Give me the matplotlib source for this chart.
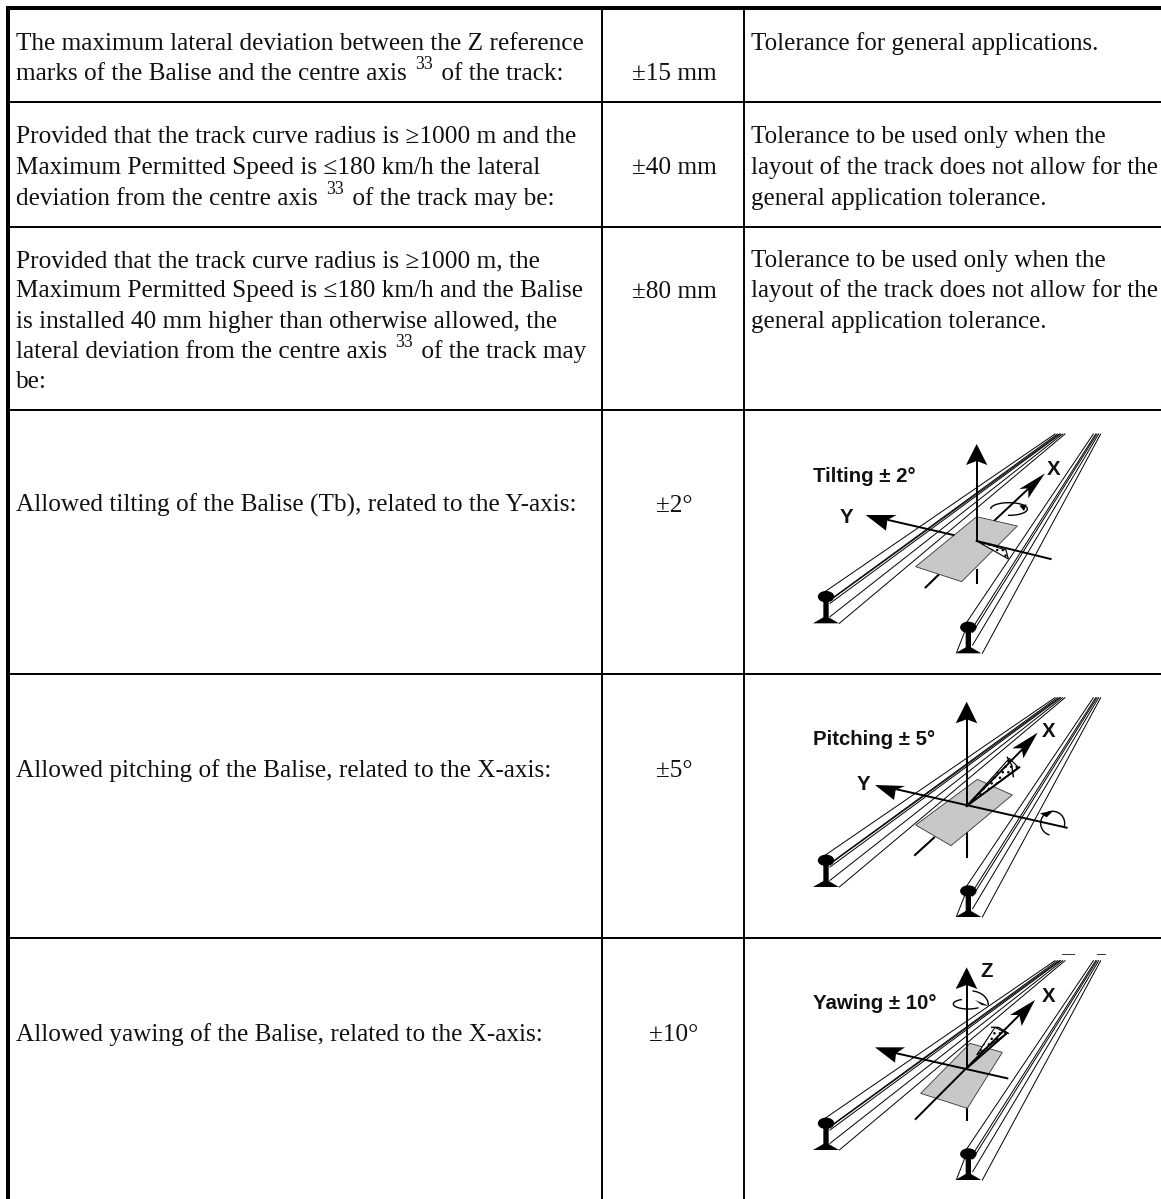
import matplotlib
matplotlib.use('Agg')
import matplotlib.pyplot as plt
from matplotlib.patches import Arc, Ellipse, Polygon

# Table text, ^33^ marks a superscript
left_col = [
    ['The maximum lateral deviation between the Z reference',
     'marks of the Balise and the centre axis ^33^ of the track:'],
    ['Provided that the track curve radius is ≥1000 m and the',
     'Maximum Permitted Speed is ≤180 km/h the lateral',
     'deviation from the centre axis ^33^ of the track may be:'],
    ['Provided that the track curve radius is ≥1000 m, the',
     'Maximum Permitted Speed is ≤180 km/h and the Balise',
     'is installed 40 mm higher than otherwise allowed, the',
     'lateral deviation from the centre axis ^33^ of the track may',
     'be:'],
    ['Allowed tilting of the Balise (Tb), related to the Y-axis:'],
    ['Allowed pitching of the Balise, related to the X-axis:'],
    ['Allowed yawing of the Balise, related to the X-axis:'],
]
left_y = [[50, 80], [143, 174, 205], [267, 297, 328, 358, 388], [512], [777], [1041]]
mid_col = ['±15 mm', '±40 mm', '±80 mm', '±2°', '±5°', '±10°']
mid_y = [80, 174, 298, 512, 777, 1041]
right_col = [
    ['Tolerance for general applications.'],
    ['Tolerance to be used only when the',
     'layout of the track does not allow for the',
     'general application tolerance.'],
    ['Tolerance to be used only when the',
     'layout of the track does not allow for the',
     'general application tolerance.'],
]
right_y = [[50], [143, 174, 205], [267, 297, 328]]
row_lines = [102, 227, 410, 674, 938]

# Diagram shapes, in 3x crop coordinates of each panel
rail_left = [(222, 532, 915), (250, 547, 922), (246, 552, 928), (240, 565, 932), (240, 605, 938), (268, 625, 945)]
rail_right = [(648, 625, 1030), (672, 632, 1037), (668, 652, 1041), (668, 690, 1046), (697, 715, 1052)]
panels = [
    dict(oy=415, dy=0, plate=[(497, 455), (635, 500), (802, 333), (680, 305)],
         under=[((527, 517), (565, 480)), ((680, 465), (680, 503))],
         over=[((680, 378), (680, 130)), ((735, 315), (845, 212)), ((610, 360), (415, 315)), ((680, 378), (902, 432))],
         heads=[[(680, 87), (648, 150), (680, 138), (712, 150)],
                [(885, 175), (808, 222), (835, 220), (835, 250)],
                [(347, 300), (440, 300), (412, 315), (408, 347)]],
         wedge=[(680, 378), (775, 432), (768, 405)],
         curves=[],
         arcs=[(777, 282, 110, 38, 0, 180, 460)],
         curve_tip=[(830, 268), (808, 272), (822, 288)],
         label=('Tilting ± 2°', 190, 200), axes=[('Y', 290, 323), ('X', 912, 180)]),
    dict(oy=680, dy=-4, plate=[(497, 435), (603, 497), (787, 345), (682, 298)],
         under=[((495, 525), (552, 473)), ((650, 460), (650, 530))],
         over=[((650, 378), (650, 110)), ((650, 378), (825, 200)), ((440, 328), (950, 443)), ((650, 378), (808, 262))],
         heads=[[(650, 65), (617, 130), (650, 118), (682, 130)],
                [(863, 158), (787, 205), (815, 205), (820, 235)],
                [(375, 315), (465, 318), (437, 330), (432, 360)]],
         wedge=[(650, 378), (778, 235), (805, 262)],
         curves=[[(772, 232), (785, 255), (790, 290)]],
         arcs=[(908, 430, 72, 72, 0, 105, 380)],
         curve_tip=[(870, 400), (910, 392), (890, 412)],
         label=('Pitching ± 5°', 190, 195), axes=[('Y', 340, 330), ('X', 895, 170)]),
    dict(oy=940, dy=5, plate=[(512, 460), (652, 505), (757, 337), (660, 310)],
         under=[((650, 505), (650, 540))],
         over=[((650, 385), (650, 125)), ((497, 537), (815, 218)), ((440, 340), (772, 415)), ((650, 385), (770, 280))],
         heads=[[(650, 82), (617, 147), (650, 135), (682, 147)],
                [(855, 180), (780, 225), (808, 225), (815, 258)],
                [(375, 322), (465, 322), (438, 340), (435, 368)]],
         wedge=[(680, 345), (735, 262), (770, 280)],
         curves=[[(725, 262), (745, 262), (775, 280)]],
         arcs=[(660, 195, 110, 85, 0, 280, 360), (655, 192, 90, 30, 0, 20, 215)],
         curve_tip=[(718, 198), (675, 180), (695, 195)],
         label=('Yawing ± 10°', 190, 207), axes=[('Z', 710, 112), ('X', 895, 185)]),
]

plt.rcParams['font.family'] = ['Liberation Serif', 'DejaVu Sans']
fig = plt.figure(figsize=(11.61, 11.99), dpi=100)
ax = fig.add_axes([0, 0, 1, 1])
ax.set_xlim(0, 1161)
ax.set_ylim(1199, 0)
ax.axis('off')
renderer = fig.canvas.get_renderer()
FS = 18.2
FS_RIGHT = 18.0


# Draw one line of text, stepping x along so superscripts land after the words
def flow_text(x, y, line):
    for i, part in enumerate(line.split('^')):
        if not part:
            continue
        sup = i % 2 == 1
        t = ax.text(x, y - (11 if sup else 0), part, fontsize=FS * 0.7 if sup else FS,
                    va='baseline', ha='left', color='#111111')
        x += t.get_window_extent(renderer).width + 2


for lines, ys in zip(left_col, left_y):
    for line, y in zip(lines, ys):
        flow_text(16, y, line)
for label, y in zip(mid_col, mid_y):
    ax.text(674, y, label, fontsize=FS, va='baseline', ha='center', color='#111111')
for lines, ys in zip(right_col, right_y):
    for line, y in zip(lines, ys):
        ax.text(751, y, line, fontsize=FS_RIGHT, va='baseline', ha='left', color='#111111', clip_on=True)

# Grid lines
ax.plot([6, 1161], [8, 8], color='black', lw=2.9, solid_capstyle='butt')
ax.plot([8, 8], [6, 1199], color='black', lw=2.9, solid_capstyle='butt')
for y in row_lines:
    ax.plot([8, 1161], [y, y], color='black', lw=1.4, solid_capstyle='butt')
for x in [602, 744]:
    ax.plot([x, x], [8, 1199], color='black', lw=1.4, solid_capstyle='butt')


def draw_panel(p):
    ox, oy, dy = 750, p['oy'], p['dy']
    tx = lambda x: ox + x / 3
    ty = lambda y: oy + y / 3

    # Rails running to the far end
    top = 57 + dy
    for x0, y0, x1 in rail_left:
        ax.plot([tx(x0), tx(x1)], [ty(y0 + dy), ty(top)], color='black', lw=0.7)
    for x0, y0, x1 in rail_right:
        ax.plot([tx(x0), tx(x1)], [ty(y0 + dy), ty(top)], color='black', lw=0.7)
    ax.plot([tx(620), tx(648)], [ty(712 + dy), ty(640 + dy)], color='black', lw=0.7)

    # Rail profiles
    for cx, head_y, foot_y, hw in [(228, 545, 625, 39), (655, 637, 715, 39)]:
        ax.add_patch(Ellipse((tx(cx), ty(head_y + dy)), 15, 10, color='black', zorder=3))
        ax.add_patch(Polygon([(tx(cx - 8), ty(head_y + dy)), (tx(cx + 8), ty(head_y + dy)),
                              (tx(cx + 8), ty(foot_y + dy - 18)), (tx(cx + hw), ty(foot_y + dy)),
                              (tx(cx - hw), ty(foot_y + dy)), (tx(cx - 8), ty(foot_y + dy - 18))],
                             color='black', zorder=3, lw=0))

    for (a, b) in p['under']:
        ax.plot([tx(a[0]), tx(b[0])], [ty(a[1]), ty(b[1])], color='black', lw=1.5, zorder=3)

    ax.add_patch(Polygon([(tx(x), ty(y)) for x, y in p['plate']], facecolor='#c8c8c8',
                         edgecolor='#333333', lw=0.6, zorder=4))

    ax.add_patch(Polygon([(tx(x), ty(y)) for x, y in p['wedge']], facecolor='white',
                         edgecolor='black', lw=0.8, hatch='...', zorder=5))

    for (a, b) in p['over']:
        ax.plot([tx(a[0]), tx(b[0])], [ty(a[1]), ty(b[1])], color='black', lw=1.4, zorder=6)
    for head in p['heads']:
        ax.add_patch(Polygon([(tx(x), ty(y)) for x, y in head], color='black', lw=0, zorder=7))
    for curve in p['curves']:
        ax.plot([tx(x) for x, y in curve], [ty(y) for x, y in curve], color='black', lw=1.0, zorder=7)
    for cx, cy, w, h, ang, t1, t2 in p['arcs']:
        ax.add_patch(Arc((tx(cx), ty(cy)), w / 3, h / 3, angle=ang, theta1=t1, theta2=t2,
                         color='black', lw=1.0, zorder=7))
    ax.add_patch(Polygon([(tx(x), ty(y)) for x, y in p['curve_tip']], color='black', lw=0, zorder=7))

    label, lx, ly = p['label']
    ax.text(tx(lx), ty(ly), label, fontsize=14.7, fontweight='bold', family='Liberation Sans',
            va='baseline', ha='left', color='#111111', zorder=8)
    for name, ax_x, ax_y in p['axes']:
        ax.text(tx(ax_x), ty(ax_y), name, fontsize=14.7, fontweight='bold', family='Liberation Sans',
                va='baseline', ha='center', color='#111111', zorder=8)


for panel in panels:
    draw_panel(panel)

# Small leftovers above the last panel
for x0, x1 in [(935, 972), (1042, 1065)]:
    ax.plot([750 + x0 / 3, 750 + x1 / 3], [954, 954], color='#333333', lw=0.7)

fig.savefig('out.png', dpi=100)
